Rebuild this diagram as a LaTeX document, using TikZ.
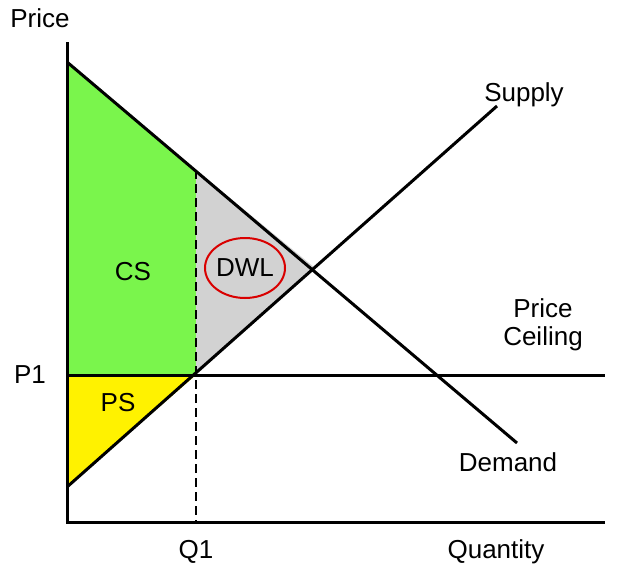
\documentclass[tikz,border=0pt]{standalone}
\usepackage{fontspec}
\setmainfont{Liberation Sans}
\usetikzlibrary{calc}
\definecolor{csgreen}{RGB}{122,245,76}
\begin{document}
\begin{tikzpicture}[x=1pt,y=-1pt,line width=3pt,
  every node/.style={font=\fontsize{26}{30}\selectfont},
  curve/.style={draw=black,line width=3pt}]
\useasboundingbox (0,0) rectangle (622,582);
% named points
\coordinate (O) at (67,522);
\coordinate (Ytop) at (67,42);
\coordinate (Xend) at (605,522);
\coordinate (Dstart) at (67,62);
\coordinate (Dend) at (517,443);
\coordinate (Sstart) at (67,487);
\coordinate (Send) at (497,106);
\coordinate (E) at (315,268);
\coordinate (Qtop) at (196,170);
\coordinate (Qcap) at (196,375);
\coordinate (Qbot) at (196,522);
\coordinate (Pleft) at (67,375);
\coordinate (Pend) at (605,375);
% areas
\fill[csgreen] (Dstart) -- (Qtop) -- (Qcap) -- (Pleft) -- cycle;
\fill[gray!35] (Qtop) -- (E) -- (Qcap) -- cycle;
\fill[yellow] (Pleft) -- (Qcap) -- (Sstart) -- cycle;
% lines
\draw[line width=2.2pt,dash pattern=on 9pt off 5pt] (Qtop) -- (Qbot);
\draw[curve] (Dstart) -- (Dend);
\draw[curve] (Sstart) -- (Send);
\draw[curve] (Pleft) -- (Pend);
\draw[curve] (Ytop) -- (O) -- (Xend);
% labels
\node (price) at (40,18) {Price};
\node (quantity) at (496,552) {Quantity};
\node (supply) at (524,95) {Supply};
\node[align=center] (ceiling) at (543,325) {Price\\[-2pt]Ceiling};
\node (demand) at (508,462) {Demand};
\node (p1) at (30,375) {P1};
\node (q1) at (196,552) {Q1};
\node (cs) at (133,272) {CS};
\node (ps) at (118,403) {PS};
\node (dwl) at (245,268) {DWL};
\draw[red!85!black,line width=2pt] (dwl) ellipse [x radius=40,y radius=30];
\end{tikzpicture}
\end{document}
